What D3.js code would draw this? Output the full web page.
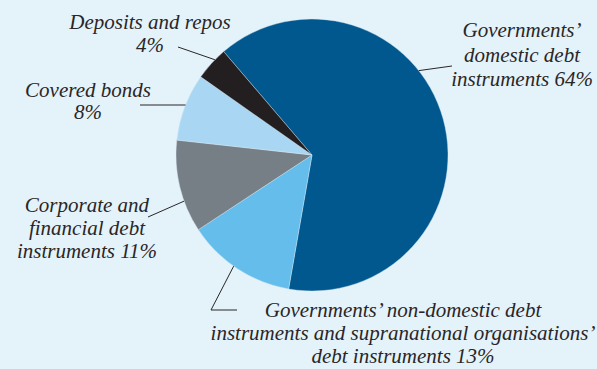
<!DOCTYPE html>
<html><head><meta charset="utf-8">
<script src="https://cdn.jsdelivr.net/npm/d3@7"></script>
<style>
html,body{margin:0;padding:0;background:#e4f2fa;}
svg{display:block;}
text{font-family:"Liberation Serif","Times New Roman",serif;font-style:italic;fill:#2a2627;}
</style></head>
<body>
<svg id="c" width="597" height="369"></svg>
<script>
const categories = [
  "Governments’ domestic debt instruments",
  "Governments’ non-domestic debt instruments and supranational organisations’ debt instruments",
  "Corporate and financial debt instruments",
  "Covered bonds",
  "Deposits and repos"
];
const values = [64, 13, 11, 8, 4];
const colors = ["#00588e", "#64bdeb", "#767e86", "#a9d7f3", "#231f20"];
const labelLines = [
  ["Governments’", "domestic debt", "instruments 64%"],
  ["Governments’ non-domestic debt", "instruments and supranational organisations’", "debt instruments 13%"],
  ["Corporate and", "financial debt", "instruments 11%"],
  ["Covered bonds", "8%"],
  ["Deposits and repos", "4%"]
];

const svg = d3.select("#c");
const W = 597, H = 369;
svg.append("rect").attr("width", W).attr("height", H).attr("fill", "#e4f2fa");

const cx = 312, cy = 155, R = 136;
const startDeg = -40.5;
const pie = d3.pie().sort(null).value(d => d)
  .startAngle(startDeg * Math.PI / 180)
  .endAngle((startDeg + 360) * Math.PI / 180);
const arc = d3.arc().innerRadius(0).outerRadius(R);
const arcs = pie(values);

const g = svg.append("g").attr("transform", `translate(${cx},${cy})`);
g.selectAll("path").data(arcs).enter().append("path")
  .attr("d", arc)
  .attr("fill", (d, i) => colors[i])
  .attr("stroke", "#d9ebf5").attr("stroke-width", 0.4);

const labelPos = [
  {x: 522, y: 37, lh: 24.5, anchor: "middle"},
  {x: 403, y: 317, lh: 23, anchor: "middle"},
  {x: 87, y: 212, lh: 23, anchor: "middle"},
  {x: 88, y: 97, lh: 22, anchor: "middle"},
  {x: 150, y: 29, lh: 22.5, anchor: "middle"}
];
const leaders = [
  {frac: 0.40, pts: [[452, 66]]},
  {frac: 0.54, pts: [[211, 310], [237, 310]]},
  {frac: 0.34, pts: [[148, 217]]},
  {frac: 0.53, pts: [[140, 105]]},
  {frac: 0.65, pts: [[178, 47]]}
];

const labels = svg.append("g");
labelLines.forEach((lines, i) => {
  const p = labelPos[i];
  const t = labels.append("text")
    .attr("text-anchor", p.anchor)
    .attr("font-size", 21);
  lines.forEach((ln, j) => {
    t.append("tspan").attr("x", p.x).attr("y", p.y + j * p.lh).text(ln);
  });
});

leaders.forEach((l, i) => {
  const a = arcs[i];
  const ang = a.startAngle + (a.endAngle - a.startAngle) * l.frac;
  const ex = cx + Math.sin(ang) * R;
  const ey = cy - Math.cos(ang) * R;
  const pts = [[ex, ey]].concat(l.pts);
  svg.append("path")
    .attr("d", d3.line()(pts))
    .attr("fill", "none")
    .attr("stroke", "#2a2627")
    .attr("stroke-width", 1);
});
</script>
</body></html>
